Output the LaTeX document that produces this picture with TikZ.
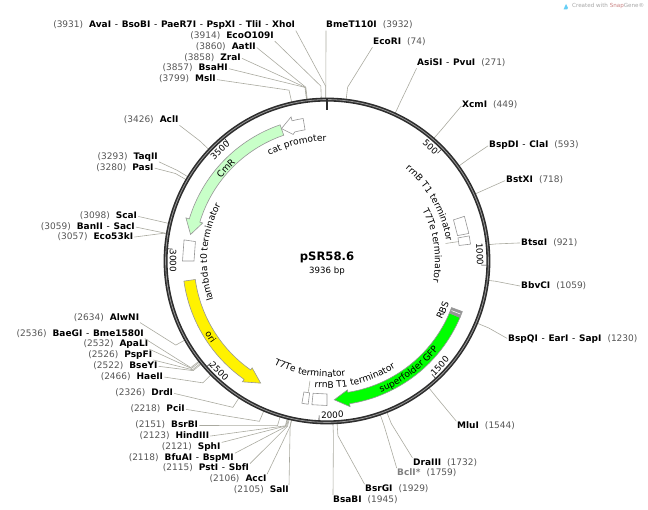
\documentclass[tikz,border=0pt]{standalone}
\usepackage{fontspec}
\setmainfont{DejaVu Sans}
\usepackage{tikz}
\usetikzlibrary{calc}
\usetikzlibrary{decorations.text}
\definecolor{bpgray}{RGB}{85,85,85}
\definecolor{leadgray}{RGB}{170,170,160}
\definecolor{ringdark}{RGB}{45,45,45}
\definecolor{cmrgreen}{RGB}{200,255,200}
\definecolor{gfpgreen}{RGB}{0,255,0}
\definecolor{edgegray}{RGB}{150,150,150}
\newcommand{\bp}[1]{\textcolor{bpgray}{(#1)}}
\newcommand{\dsh}{\hspace{3.7pt}-\hspace{3.7pt}}

\begin{document}
\begin{tikzpicture}[x=1pt,y=1pt,
	site/.style={font=\fontsize{9}{10}\selectfont,inner sep=0pt,text height=6.5pt,text depth=1.5pt,yshift=-1.2pt},
	lead/.style={draw=leadgray,line width=0.6pt,shorten <=1pt},
	feature/.style={draw=edgegray,line width=0.6pt},
	arctext/.style={decorate,decoration={text along path,text align=center,text={|\fontsize{9.1}{10}\selectfont|#1}}},
	tickno/.style={font=\fontsize{8.8}{10}\selectfont,inner sep=0pt}]
	\useasboundingbox (-327,-249) rectangle (321,261);

	% features
	\draw[feature,fill=cmrgreen] (109:144) arc[start angle=109,end angle=163,radius=144] -- (163:147.5) -- (169:139) -- (163:130) -- (163:133) arc[start angle=163,end angle=109,radius=133] -- cycle;
	\draw[feature,fill=yellow] (188:144.5) arc[start angle=188,end angle=235,radius=144.5] -- (235:147.5) -- (241.5:139) -- (235:130.5) -- (235:133) arc[start angle=235,end angle=188,radius=133] -- cycle;
	\draw[feature,fill=gfpgreen] (-23:144.5) arc[start angle=-23,end angle=-81,radius=144.5] -- (-81:147.5) -- (-87:139) -- (-81:130.5) -- (-81:133) arc[start angle=-81,end angle=-23,radius=133] -- cycle;
	\draw[feature,fill=edgegray] (-20.5:144.5) -- (-23:144.5) -- (-23:133) -- (-20.5:133) -- cycle;
	\draw[white,line width=0.6pt] (-21.7:134) -- (-21.7:143.5);
	\draw[feature,fill=white] (99.5:144.5) arc[start angle=99.5,end angle=104,radius=144.5] -- (104:148.5) -- (109:140) -- (105:131) -- (104:133) arc[start angle=104,end angle=99.5,radius=133] -- cycle;

	\draw[feature] (11:133) -- (18:133) -- (18:144.5) -- (11:144.5) -- cycle;
	\draw[feature] (6.7:133) -- (10:133) -- (10:144.5) -- (6.7:144.5) -- cycle;
	\draw[feature] (264:133) -- (270:133) -- (270:144.5) -- (264:144.5) -- cycle;
	\draw[feature] (260:133) -- (262.5:133) -- (262.5:144.5) -- (260:144.5) -- cycle;
	\draw[feature] (171.6:133) -- (180:133) -- (180:144.5) -- (171.6:144.5) -- cycle;

	\coordinate (toplabel) at (8.4:119);
	\coordinate (topbox) at (8.4:132);
	\coordinate (botlabel) at (261.9:120);
	\coordinate (botbox) at (261.9:132);
	\draw[lead] (toplabel) -- (topbox);
	\draw[lead] (botlabel) -- (botbox);

	% feature labels
	\path[arctext={cat promoter}] (122:120) arc[start angle=122,end angle=87,radius=120];
	\path[arctext={CmR}] (150:134) arc[start angle=150,end angle=125,radius=134];
	\path[arctext={lambda t0 terminator}] (205:120) arc[start angle=205,end angle=146,radius=120];
	\path[arctext={ori}] (203:142) arc[start angle=203,end angle=223,radius=142];
	\path[arctext={T7Te terminator}] (240:116) arc[start angle=240,end angle=282,radius=116];
	\path[arctext={rrnB T1 terminator}] (261:127) arc[start angle=261,end angle=306,radius=127];
	\path[arctext={superfolder GFP}] (287:142) arc[start angle=287,end angle=327,radius=142];
	\path[arctext={RBS}] (-30:129) arc[start angle=-30,end angle=-16,radius=129];
	\path[arctext={rrnB T1 terminator}] (53:121) arc[start angle=53,end angle=6,radius=121];
	\path[arctext={T7Te terminator}] (31:108) arc[start angle=31,end angle=-14,radius=108];

	% sites on the left
	\node[site,anchor=east] (xhoI) at (-31.7,236.7) {\bp{3931}\hspace{6pt}\textbf{AvaI}\dsh\textbf{BsoBI}\dsh\textbf{PaeR7I}\dsh\textbf{PspXI}\dsh\textbf{TliI}\dsh\textbf{XhoI}};
	\node[site,anchor=east] (ecoO) at (-53,226) {\bp{3914}\hspace{6pt}\textbf{EcoO109I}};
	\node[site,anchor=east] (aatII) at (-71,215.3) {\bp{3860}\hspace{6pt}\textbf{AatII}};
	\node[site,anchor=east] (zraI) at (-86,204.3) {\bp{3858}\hspace{6pt}\textbf{ZraI}};
	\node[site,anchor=east] (bsaHI) at (-99,193.7) {\bp{3857}\hspace{6pt}\textbf{BsaHI}};
	\node[site,anchor=east] (mslI) at (-111,182.7) {\bp{3799}\hspace{6pt}\textbf{MslI}};
	\node[site,anchor=east] (aclI) at (-148.3,141.7) {\bp{3426}\hspace{6pt}\textbf{AclI}};
	\node[site,anchor=east] (taqII) at (-169,105) {\bp{3293}\hspace{6pt}\textbf{TaqII}};
	\node[site,anchor=east] (pasI) at (-173.3,94.3) {\bp{3280}\hspace{6pt}\textbf{PasI}};
	\node[site,anchor=east] (scaI) at (-189.7,46) {\bp{3098}\hspace{6pt}\textbf{ScaI}};
	\node[site,anchor=east] (banII) at (-192,35.3) {\bp{3059}\hspace{6pt}\textbf{BanII}\dsh\textbf{SacI}};
	\node[site,anchor=east] (ecoF) at (-193.7,25) {\bp{3057}\hspace{6pt}\textbf{Eco53kI}};
	\node[site,anchor=east] (alwNI) at (-187.7,-55.7) {\bp{2634}\hspace{6pt}\textbf{AlwNI}};
	\node[site,anchor=east] (baeGI) at (-183,-71.7) {\bp{2536}\hspace{6pt}\textbf{BaeGI}\dsh\textbf{Bme1580I}};
	\node[site,anchor=east] (apaLI) at (-178.7,-82.3) {\bp{2532}\hspace{6pt}\textbf{ApaLI}};
	\node[site,anchor=east] (pspFI) at (-174.7,-93.3) {\bp{2526}\hspace{6pt}\textbf{PspFI}};
	\node[site,anchor=east] (bseYI) at (-169.3,-104) {\bp{2522}\hspace{6pt}\textbf{BseYI}};
	\node[site,anchor=east] (haeII) at (-163.7,-114.7) {\bp{2466}\hspace{6pt}\textbf{HaeII}};
	\node[site,anchor=east] (drdI) at (-153.7,-131) {\bp{2326}\hspace{6pt}\textbf{DrdI}};
	\node[site,anchor=east] (pciI) at (-142,-147) {\bp{2218}\hspace{6pt}\textbf{PciI}};
	\node[site,anchor=east] (bsrBI) at (-128.7,-163.3) {\bp{2151}\hspace{6pt}\textbf{BsrBI}};
	\node[site,anchor=east] (hindIII) at (-117.7,-174) {\bp{2123}\hspace{6pt}\textbf{HindIII}};
	\node[site,anchor=east] (sphI) at (-106.3,-184.7) {\bp{2121}\hspace{6pt}\textbf{SphI}};
	\node[site,anchor=east] (bfuAI) at (-93,-195.7) {\bp{2118}\hspace{6pt}\textbf{BfuAI}\dsh\textbf{BspMI}};
	\node[site,anchor=east] (pstI) at (-77.7,-206.3) {\bp{2115}\hspace{6pt}\textbf{PstI}\dsh\textbf{SbfI}};
	\node[site,anchor=east] (accI) at (-60.3,-217) {\bp{2106}\hspace{6pt}\textbf{AccI}};
	\node[site,anchor=east] (salI) at (-38,-228) {\bp{2105}\hspace{6pt}\textbf{SalI}};

	% sites on the right
	\node[site,anchor=west] (bmeT) at (-1,236.7) {\textbf{BmeT110I}\hspace{6pt}\bp{3932}};
	\node[site,anchor=west] (ecoRI) at (46,220) {\textbf{EcoRI}\hspace{6pt}\bp{74}};
	\node[site,anchor=west] (asiSI) at (90,199) {\textbf{AsiSI}\dsh\textbf{PvuI}\hspace{6pt}\bp{271}};
	\node[site,anchor=west] (xcmI) at (135,157) {\textbf{XcmI}\hspace{6pt}\bp{449}};
	\node[site,anchor=west] (bspDI) at (162,117) {\textbf{BspDI}\dsh\textbf{ClaI}\hspace{6pt}\bp{593}};
	\node[site,anchor=west] (bstXI) at (179,82) {\textbf{BstXI}\hspace{6pt}\bp{718}};
	\node[site,anchor=west] (btsaI) at (194,19.3) {\textbf{BtsαI}\hspace{6pt}\bp{921}};
	\node[site,anchor=west] (bbvCI) at (194,-24) {\textbf{BbvCI}\hspace{6pt}\bp{1059}};
	\node[site,anchor=west] (bspQI) at (181,-76.7) {\textbf{BspQI}\dsh\textbf{EarI}\dsh\textbf{SapI}\hspace{6pt}\bp{1230}};
	\node[site,anchor=west] (mluI) at (130,-164) {\textbf{MluI}\hspace{6pt}\bp{1544}};
	\node[site,anchor=west] (draIII) at (86,-200.7) {\textbf{DraIII}\hspace{6pt}\bp{1732}};
	\node[site,anchor=west] (bclI) at (70,-211) {\textcolor{gray}{\textbf{BclI*}}\hspace{6pt}\bp{1759}};
	\node[site,anchor=west] (bsrGI) at (38,-227) {\textbf{BsrGI}\hspace{6pt}\bp{1929}};
	\node[site,anchor=west] (bsaBI) at (6,-238) {\textbf{BsaBI}\hspace{6pt}\bp{1945}};

	% leaders from the labels to the ring
	\foreach \name/\pos/\side/\rad in {xhoI/3931/south east/175,ecoO/3914/south east/175,aatII/3860/east/175,zraI/3858/east/175,bsaHI/3857/east/175,mslI/3799/east/175,aclI/3426/south east/175,taqII/3293/south east/175,pasI/3280/east/175,scaI/3098/east/170,banII/3059/east/166,ecoF/3057/east/166,alwNI/2634/south east/173,baeGI/2536/south east/173,apaLI/2532/south east/173,pspFI/2526/south east/173,bseYI/2522/east/173,haeII/2466/east/174,drdI/2326/east/174,pciI/2218/east/174,bsrBI/2151/east/172,hindIII/2123/east/170,sphI/2121/north east/170,bfuAI/2118/north east/170,pstI/2115/north east/170,accI/2106/north east/170,salI/2105/north east/170,bmeT/3932/south west/175,ecoRI/74/south west/175,asiSI/271/south west/175,xcmI/449/west/175,bspDI/593/west/175,bstXI/718/west/175,btsaI/921/west/170,bbvCI/1059/west/170,bspQI/1230/west/175,mluI/1544/north west/175,draIII/1732/north west/175,bclI/1759/north west/175,bsrGI/1929/north west/175,bsaBI/1945/north west/175}{
		\pgfmathsetmacro\ang{90-\pos/3936*360}
		\coordinate (\name elbow) at (\ang:\rad);
		\coordinate (\name site) at (\ang:162);
		\draw[lead] (\name.\side) -- (\name elbow) -- (\name site);
	}

	% backbone
	\draw[ringdark,line width=4pt] (0,0) circle (161.4);
	\draw[white!60!black,line width=0.8pt] (0,0) circle (161.4);
	\draw[ringdark,line width=1.5pt] (0,163) -- (0,151);

	% ticks
	\foreach \ang in {44.3,-1.5,-47.2,-92.9,-138.7,-184.4,129.9}{
		\draw[ringdark,line width=0.6pt] (\ang:154.5) -- (\ang:159.6);
	}
	\node[tickno,rotate=-42.2] (tick500) at (47.8:154) {500};
	\node[tickno,rotate=-87.4] (tick1000) at (2.6:153) {1000};
	\node[tickno,rotate=47.1] (tick1500) at (-42.9:154) {1500};
	\node[tickno,rotate=2] (tick2000) at (-88:154) {2000};
	\node[tickno,rotate=-44.5] (tick2500) at (-134.5:154) {2500};
	\node[tickno,rotate=-90] (tick3000) at (180:154) {3000};
	\node[tickno,rotate=44] (tick3500) at (134:154) {3500};

	% name of the plasmid
	\node[font=\fontsize{11.6}{13}\bfseries\selectfont,inner sep=0pt] (plasmid) at (0,3.5) {pSR58.6};
	\node[site,font=\fontsize{8.6}{10}\selectfont] (plasmidsize) at (0,-9) {3936 bp};

	% mark of the program
	\fill[cyan!60] (236.5,251.5) -- (239,257) -- (241,253) -- (240,251.5) -- cycle;
	\node[font=\fontsize{5.6}{8}\selectfont,inner sep=0pt,anchor=west,gray!70] (madewith) at (245,254.6) {Created with \textcolor{red!40!gray!70}{Snap}Gene®};
\end{tikzpicture}
\end{document}
